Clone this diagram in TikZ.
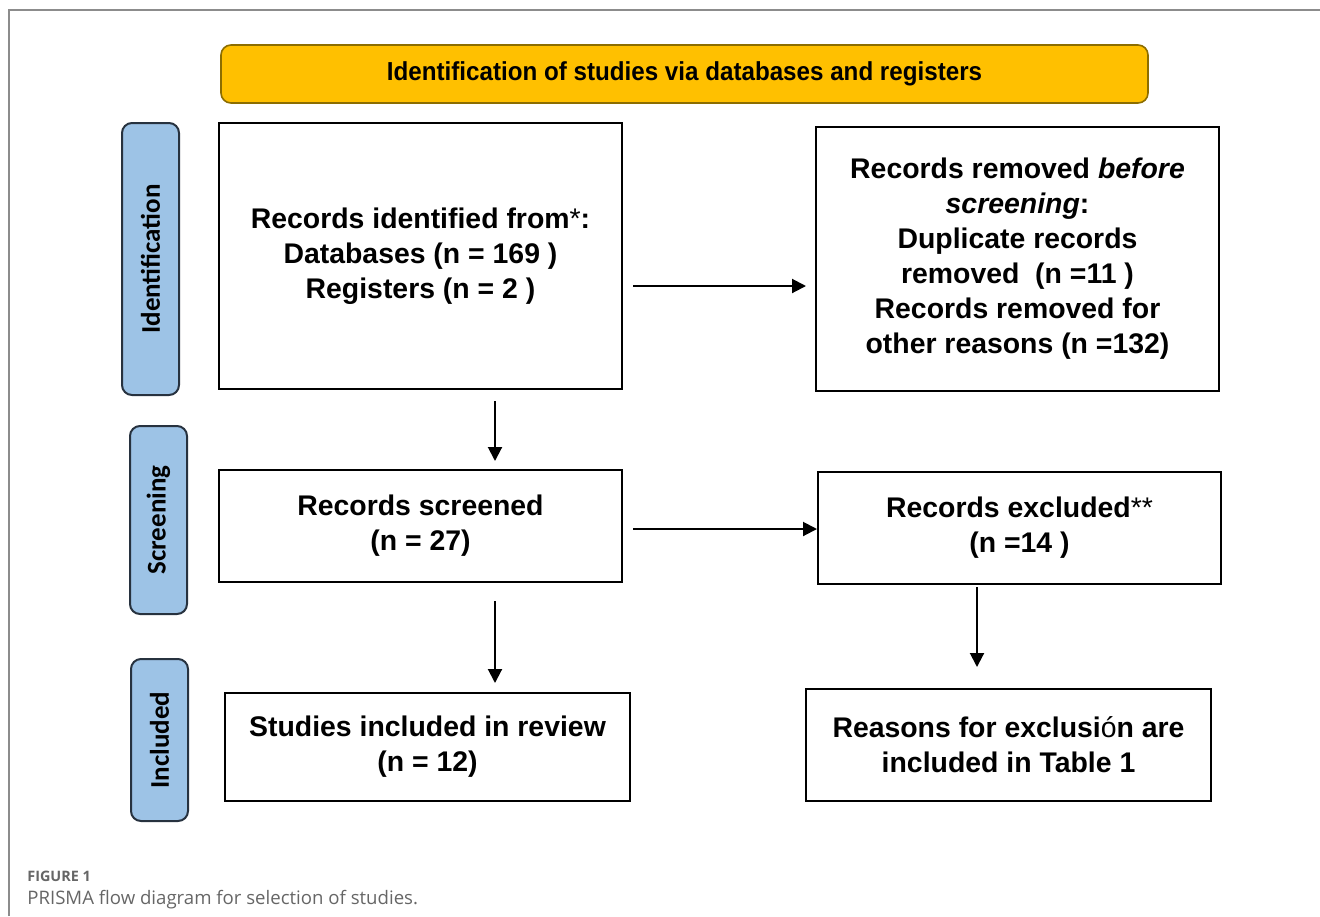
\documentclass[tikz,border=0pt]{standalone}
\usepackage{fontspec}
\setmainfont{Liberation Sans}
\newfontfamily\phasefont{Carlito}
\newfontfamily\capfont{Open Sans}
\newfontfamily\bannerfont[FakeStretch=0.93]{Liberation Sans}
\usetikzlibrary{arrows.meta,positioning}

\definecolor{bannerfill}{HTML}{FFC000}
\definecolor{bannerline}{HTML}{8C6D00}
\definecolor{phasefill}{HTML}{9DC3E6}
\definecolor{phaseline}{HTML}{27323F}
\definecolor{capgray}{HTML}{666666}
\definecolor{framegray}{HTML}{8C8C8C}

\begin{document}
\begin{tikzpicture}[
    x=0.5pt, y=-0.5pt,
    box/.style={draw, line width=1pt, align=center, inner sep=0pt, font=\fontsize{14.2}{17.5}\selectfont\bfseries},
    phase/.style={draw=phaseline, fill=phasefill, line width=1pt, rounded corners=5pt, rotate=90, minimum height=28.5pt, inner sep=0pt, font=\phasefont\fontsize{13.5}{16}\selectfont\bfseries},
    banner/.style={draw=bannerline, fill=bannerfill, line width=0.8pt, rounded corners=5pt, minimum width=463.5pt, minimum height=29pt, font=\bannerfont\fontsize{13}{15}\selectfont\bfseries},
    caption/.style={anchor=base west, inner sep=0pt, text=capgray},
    arr/.style={-{Triangle[length=7pt,width=7pt]}, line width=1pt}
  ]
    \useasboundingbox (0,0) rectangle (1320,916);
    \draw[framegray, line width=0.7pt] (9,916) -- (9,10) -- (1320,10);

    \node[banner] (head) at (684.5,74) {Identification of studies via databases and registers};

    % phases
    \node[phase, minimum width=136pt] (pid) at (150.5,259) {Identification};
    \node[phase, minimum width=94pt] (pscr) at (158.5,520) {Screening};
    \node[phase, minimum width=81pt] (pinc) at (159.5,740) {Included};

    % flow boxes
    \node[box, minimum width=201.5pt, minimum height=133pt] (id) at (420.5,256) {Records identified from{\mdseries*}:\\ Databases (n = 169 )\\ Registers (n = 2 )};
    \node[box, minimum width=201.5pt, minimum height=132pt] (rem) at (1017.5,259) {Records removed \textit{before}\\ \textit{screening}:\\ Duplicate records\\ removed\ \ (n =11 )\\ Records removed for\\ other reasons (n =132)};
    \node[box, minimum width=201.5pt, minimum height=56pt] (scr) at (420.5,526) {Records screened\\ (n = 27)};
    \node[box, minimum width=201.5pt, minimum height=56pt] (exc) at (1019.5,528) {Records excluded{\mdseries**}\\ (n =14 )};
    \node[box, minimum width=202.5pt, minimum height=54pt] (inc) at (427.5,747) {Studies included in review\\ (n = 12)};
    \node[box, minimum width=202.5pt, minimum height=56pt] (rea) at (1008.5,745) {Reasons for exclusi{\mdseries ó}n are\\ included in Table 1};

    \draw[arr] ([xshift=5pt,yshift=-15pt]id.east) -- ([xshift=-4.5pt,yshift=-13.5pt]rem.west);
    \draw[arr] ([xshift=37.25pt,yshift=-5.5pt]id.south) -- ([xshift=37.25pt,yshift=4pt]scr.north);
    \draw[arr] ([xshift=5pt,yshift=-1.5pt]scr.east) -- ([yshift=-0.5pt]exc.west);
    \draw[arr] ([xshift=37.25pt,yshift=-9pt]scr.south) -- ([xshift=33.75pt,yshift=4.5pt]inc.north);
    \draw[arr] ([xshift=-21.25pt,yshift=-1pt]exc.south) -- ([xshift=-15.75pt,yshift=10.5pt]rea.north);

    \node[caption, font=\capfont\fontsize{7.2}{9}\selectfont\bfseries] (fig) at (27,881) {FIGURE 1};
    \node[caption, font=\capfont\fontsize{9.3}{11}\selectfont] (cap) at (27,904) {PRISMA flow diagram for selection of studies.};
\end{tikzpicture}
\end{document}
